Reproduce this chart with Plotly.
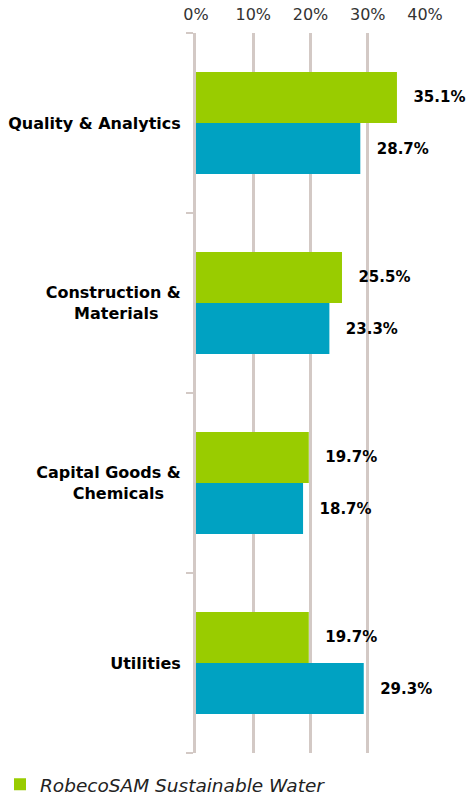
import plotly.graph_objects as go

categories = ["Quality & Analytics", "Construction & Materials", "Capital Goods & Chemicals", "Utilities"]
category_labels = [
    "Quality & Analytics",
    "Construction &<br>Materials\u00a0\u00a0\u00a0\u00a0",
    "Capital Goods &<br>Chemicals\u00a0\u00a0\u00a0",
    "Utilities",
]
fund_name = "RobecoSAM Sustainable Water"
fund_values = [35.1, 25.5, 19.7, 19.7]
bench_name = "Benchmark"
bench_values = [28.7, 23.3, 18.7, 29.3]
x_ticks = [0, 10, 20, 30, 40]
x_tick_labels = ["0%", "10%", "20%", "30%", "40%"]

FONT = "DejaVu Sans"
GRID = "#d3c9c5"
pad = "\u00a0\u00a0\u2009"

fig = go.Figure()
fig.add_trace(go.Bar(
    y=categories, x=fund_values, orientation="h", name=fund_name,
    marker=dict(color="#99cc00", line=dict(width=0)),
    text=[f"{pad}{v:.1f}%" for v in fund_values], textposition="outside",
    textfont=dict(family=FONT, size=15, color="#000000", weight="bold"),
    cliponaxis=False,
))
fig.add_trace(go.Bar(
    y=categories, x=bench_values, orientation="h", name=bench_name,
    marker=dict(color="#00a2c2", line=dict(width=0)),
    text=[f"{pad}{v:.1f}%" for v in bench_values], textposition="outside",
    textfont=dict(family=FONT, size=15, color="#000000", weight="bold"),
    cliponaxis=False, showlegend=False,
))

fig.update_layout(
    width=472, height=800,
    margin=dict(l=196, r=47, t=33, b=47, autoexpand=False),
    paper_bgcolor="white", plot_bgcolor="white",
    barmode="group", bargap=0.433, bargroupgap=0,
    font=dict(family=FONT, color="#333333"),
    xaxis=dict(
        side="top", range=[0, 40], tickvals=x_ticks, ticktext=x_tick_labels,
        showgrid=True, gridcolor=GRID, gridwidth=3, zeroline=False,
        showline=False, ticks="", tickfont=dict(family=FONT, size=16, color="#333333"),
        automargin=False, ticklabelstandoff=9,
    ),
    yaxis=dict(
        autorange="reversed", showline=True, linecolor=GRID, linewidth=3,
        tickvals=categories, ticktext=category_labels,
        ticks="outside", tickson="boundaries", ticklen=7, tickwidth=2, tickcolor=GRID,
        tickfont=dict(family=FONT, size=16, color="#000000", weight="bold"),
        ticklabelstandoff=9, showgrid=False, automargin=False,
    ),
    legend=dict(
        orientation="h", xref="container", x=0, xanchor="left",
        yref="container", y=0.019, yanchor="middle",
        font=dict(family=FONT, size=18.5, color="#222222", style="italic"),
        itemwidth=30,
    ),
)

fig.write_html(
    "out.html",
    config={"displayModeBar": False},
    post_script="document.body.style.margin='0';document.body.style.overflow='hidden';",
)
